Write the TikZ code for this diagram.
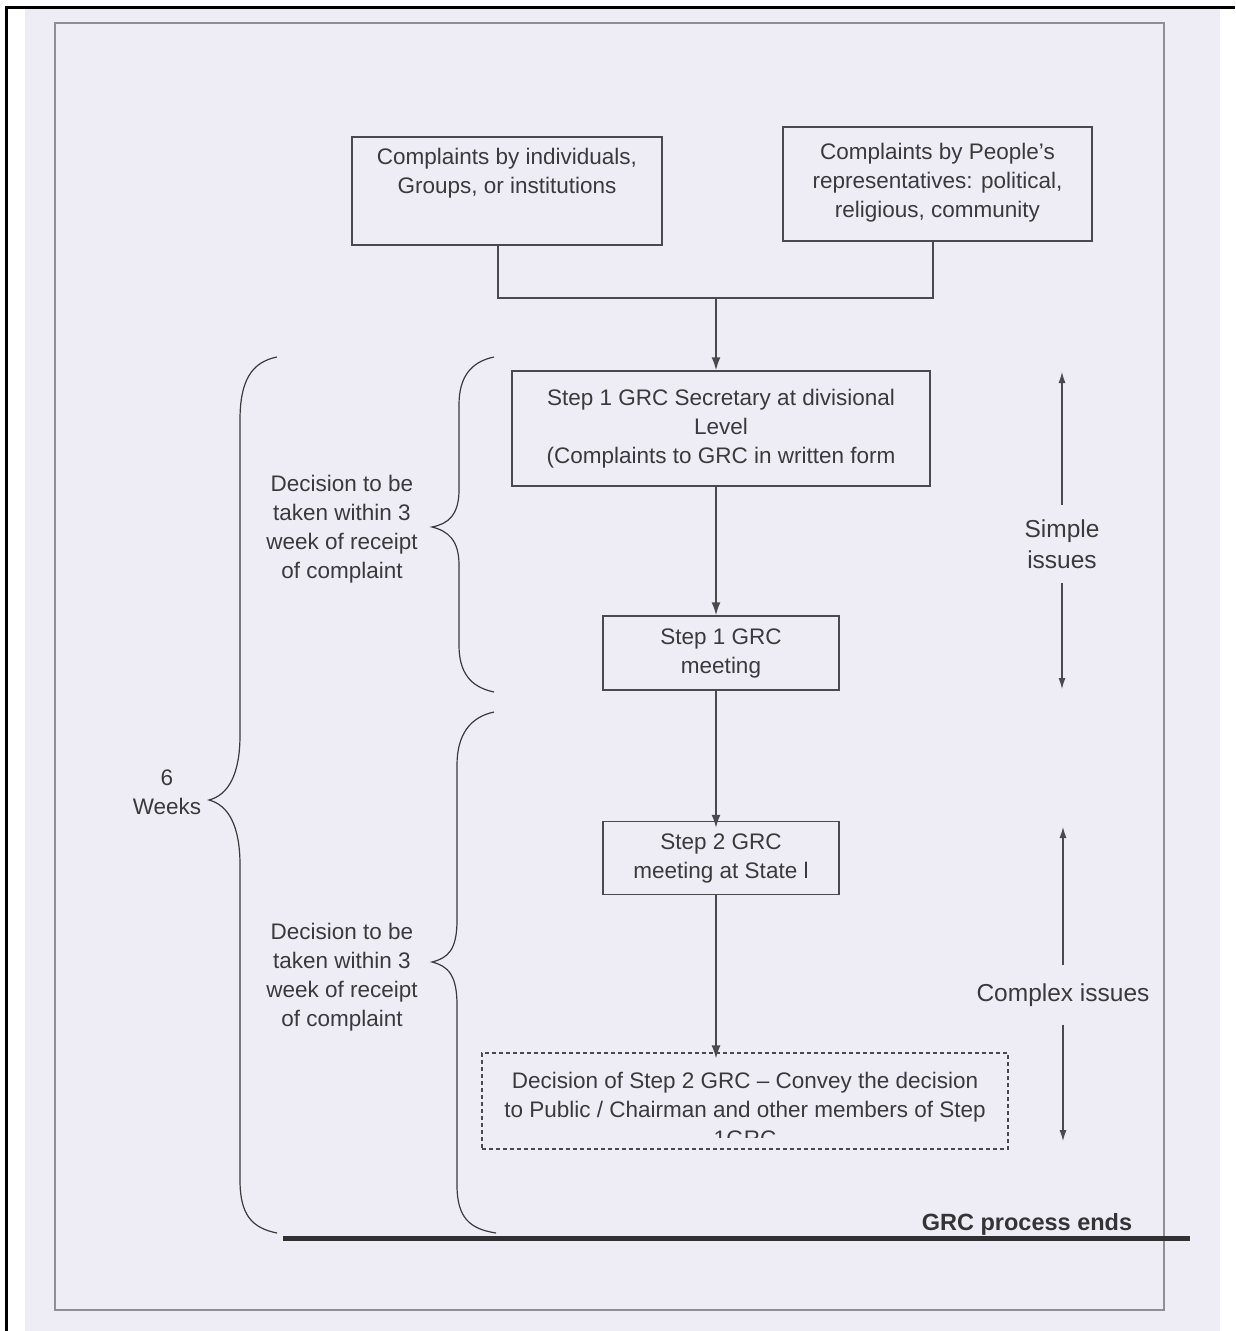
\documentclass[tikz,border=0pt]{standalone}
\usepackage{fontspec}
\setmainfont{Liberation Sans}
\usetikzlibrary{arrows.meta,calc}
\definecolor{scanbg}{HTML}{EEEDF6}
\definecolor{ink}{HTML}{3A3A3C}
\definecolor{frameg}{HTML}{8E8E94}
\definecolor{boxline}{HTML}{4A4A4E}
\begin{document}
\begin{tikzpicture}[x=1pt,y=-1pt,
  txt/.style={text=ink, font=\fontsize{22.5}{29}\selectfont, align=center, inner sep=0pt},
  side/.style={text=ink, font=\fontsize{24.5}{31}\selectfont, align=center, inner xsep=0pt},
  box/.style={draw=boxline, line width=1.5pt, inner sep=0pt},
  dbox/.style={draw=boxline, line width=1.2pt, dash pattern=on 4pt off 3pt, inner sep=0pt},
  conn/.style={draw=boxline, line width=1.5pt},
  arr/.style={conn, -{Latex[length=13pt,width=9pt]}},
  sarr/.style={draw=boxline, line width=1.1pt, -{Latex[length=11pt,width=7pt]}},
  brace/.style={draw=ink, line width=1.2pt}
]
\useasboundingbox (0,0) rectangle (1235,1331);
\fill[white] (0,0) rectangle (1235,1331);
\fill[scanbg] (25,9) rectangle (1220,1331);
\draw[black, line width=3pt] (6,1331) -- (6,7) -- (1235,7);
\draw[frameg, line width=2pt] (55,23) rectangle (1164,1310);

% boxes
\node[box, minimum width=310pt, minimum height=108pt] (c1) at (507,191) {};
\node[txt] (c1t) at (507,173) {Complaints by individuals,\\Groups, or institutions};
\node[box, minimum width=309pt, minimum height=114pt] (c2) at (937.5,184) {};
\node[txt] (c2t) at (937.5,183) {Complaints by People's\\representatives: political,\\religious, community};
\node[box, minimum width=418pt, minimum height=115pt, txt] (s1) at (721,428.5) {Step 1 GRC Secretary at divisional\\Level\\(Complaints to GRC in written form};
\node[box, minimum width=236pt, minimum height=74pt, txt] (m1) at (721,653) {Step 1 GRC\\meeting};
\node[box, minimum width=236pt, minimum height=73pt, txt] (m2) at (721,858) {Step 2 GRC\\meeting at State l};
\node[dbox, minimum width=526pt, minimum height=96pt] (d2) at (745,1101) {};
\begin{scope}
  \clip (484,1055) rectangle (1006,1137);
  \node[txt] (d2t) at (745,1109) {Decision of Step 2 GRC -- Convey the decision\\to Public / Chairman and other members of Step\\1GRC};
\end{scope}

% connectors
\coordinate (jn) at (716,298);
\draw[conn] ([xshift=-9pt]c1.south) |- (jn) -| ([xshift=-4.5pt]c2.south);
\draw[arr] (jn) -- (jn |- s1.north);
\draw[arr] (s1.south -| jn) -- (m1.north -| jn);
\draw[arr] (m1.south -| jn) -- ([yshift=-7pt]m2.north -| jn);
\draw[arr] (m2.south -| jn) -- ([yshift=-6pt]d2.north -| jn);

% side labels
\node[side, inner ysep=14pt] (si) at (1062,544) {Simple\\issues};
\coordinate (sit) at (1062,372);
\coordinate (sib) at (1062,689);
\draw[sarr] (si.north) -- (sit);
\draw[sarr] (si.south) -- (sib);
\node[side, inner ysep=18pt] (ci) at (1063,995) {Complex issues};
\coordinate (cit) at (1063,827);
\coordinate (cib) at (1063,1141);
\draw[sarr] (ci.north) -- (cit);
\draw[sarr] (ci.south) -- (cib);

% braces
\draw[brace] (277,357) .. controls (252,362) and (240,380) .. (240,420) -- (240,735)
  .. controls (240,775) and (228,795) .. (209,800) .. controls (228,805) and (240,825) .. (240,865)
  -- (240,1180) .. controls (240,1215) and (252,1228) .. (277,1233);
\draw[brace] (494,357) .. controls (470,362) and (459,378) .. (459,405) -- (459,490)
  .. controls (459,515) and (448,524) .. (432,527) .. controls (448,531) and (459,540) .. (459,565)
  -- (459,645) .. controls (459,672) and (470,687) .. (494,692);
\draw[brace] (494,712) .. controls (470,717) and (457,735) .. (457,765) -- (457,920)
  .. controls (457,950) and (448,958) .. (432,962) .. controls (448,966) and (457,975) .. (457,1005)
  -- (457,1185) .. controls (457,1218) and (470,1229) .. (496,1233);

\node[txt] (wk) at (167,792) {6\\Weeks};
\node[txt] (dec1) at (342,529) {Decision to be\\taken within 3\\week of receipt\\of complaint};
\node[txt] (dec2) at (342,977) {Decision to be\\taken within 3\\week of receipt\\of complaint};

% end line
\coordinate (ls) at (283,1238);
\coordinate (le) at (1190,1238);
\draw[line width=5pt, draw=ink!85!black] (ls) -- (le);
\node[text=ink!90!black, font=\bfseries\fontsize{23.5}{29}\selectfont, inner sep=0pt] (end) at (1027,1224) {GRC process ends};
\end{tikzpicture}
\end{document}
